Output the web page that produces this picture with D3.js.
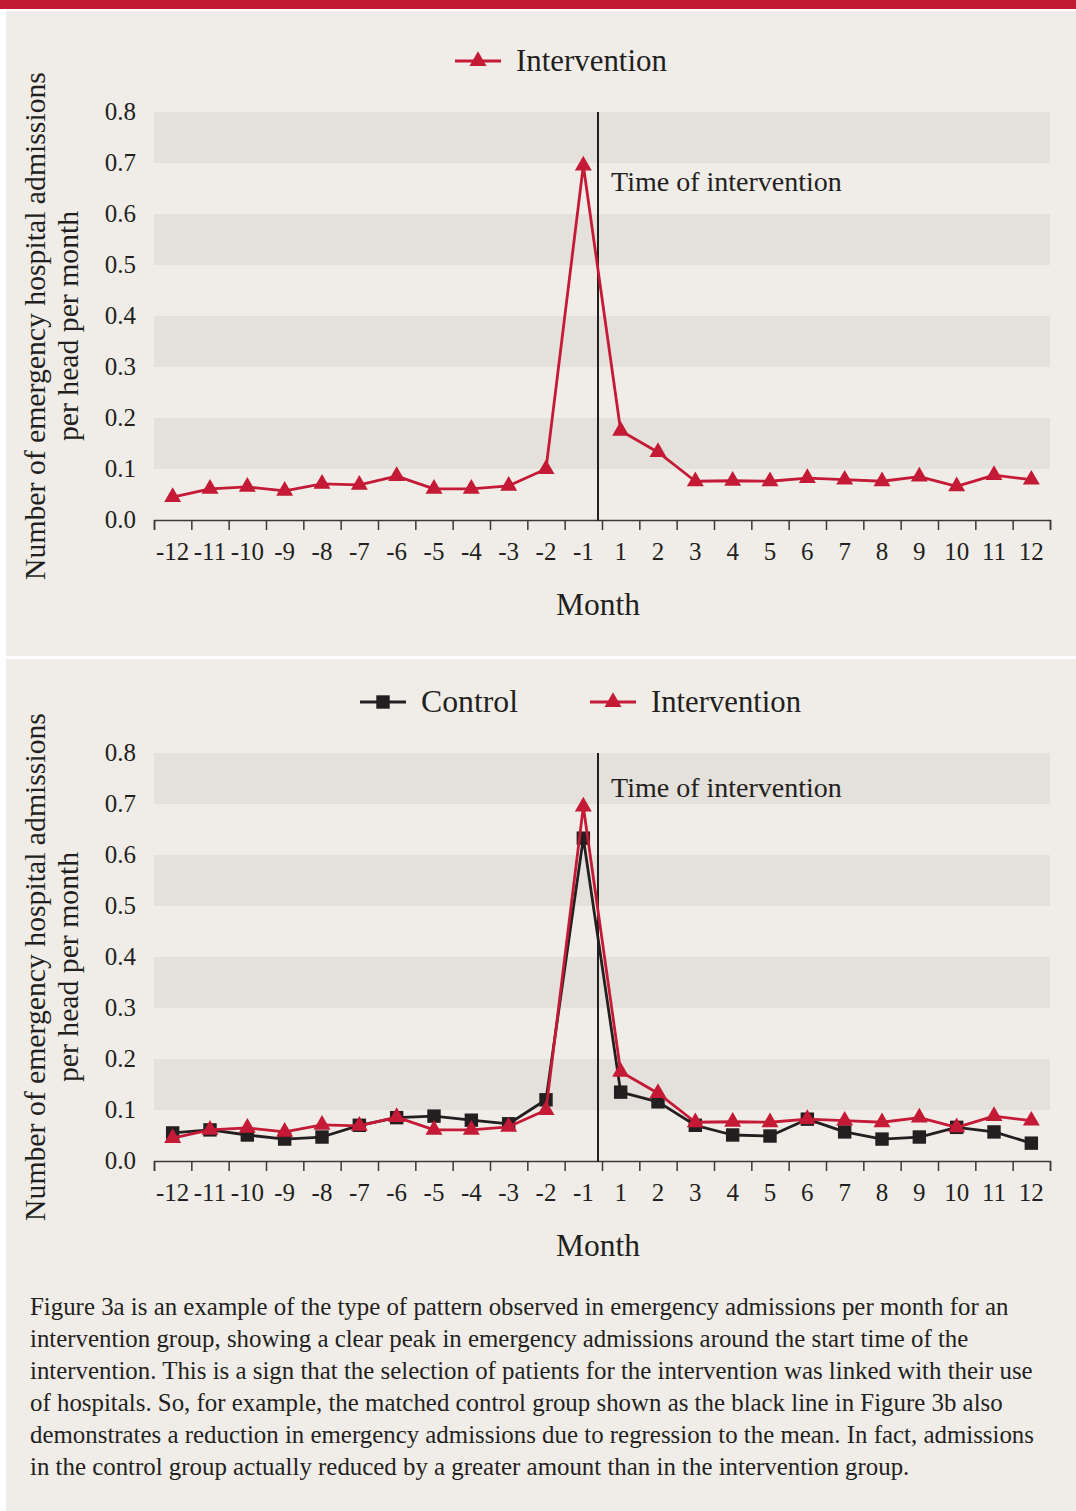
<!DOCTYPE html>
<html>
<head>
<meta charset="utf-8">
<script src="https://cdn.jsdelivr.net/npm/d3@7"></script>
<style>
  html, body { margin: 0; padding: 0; background: #ffffff; }
  svg { display: block; }
  text { font-family: "Liberation Serif", "DejaVu Serif", serif; fill: #231f20; }
</style>
</head>
<body>
<script>
// ---------------- DATA ----------------
const months = ["-12","-11","-10","-9","-8","-7","-6","-5","-4","-3","-2","-1",
                "1","2","3","4","5","6","7","8","9","10","11","12"];
const intervention = [0.045,0.061,0.065,0.057,0.071,0.069,0.086,0.061,0.061,0.067,0.100,0.695,
                      0.175,0.133,0.076,0.077,0.076,0.082,0.079,0.076,0.085,0.066,0.088,0.079];
const control = [0.055,0.061,0.051,0.043,0.047,0.070,0.085,0.088,0.080,0.073,0.120,0.633,
                 0.135,0.116,0.070,0.051,0.049,0.082,0.057,0.043,0.047,0.066,0.057,0.035];
const yTicks = [0.0,0.1,0.2,0.3,0.4,0.5,0.6,0.7,0.8];
const shadedBands = [[0.1,0.2],[0.3,0.4],[0.5,0.6],[0.7,0.8]];
const interventionMonth = "1";
const yTitle = ["Number of emergency hospital admissions", "per head per month"];
const xTitle = "Month";
const timeLabel = "Time of intervention";
const caption = [
  "Figure 3a is an example of the type of pattern observed in emergency admissions per month for an",
  "intervention group, showing a clear peak in emergency admissions around the start time of the",
  "intervention. This is a sign that the selection of patients for the intervention was linked with their use",
  "of hospitals. So, for example, the matched control group shown as the black line in Figure 3b also",
  "demonstrates a reduction in emergency admissions due to regression to the mean. In fact, admissions",
  "in the control group actually reduced by a greater amount than in the intervention group."
];
const captionWidths = [975, 940, 1007, 965, 1003, 888];

// ---------------- STYLE ----------------
const RED = "#c41a36", BLACK = "#231f20", BEIGE = "#f0ede8", BAND = "#e4e0db";
const FONT = '"Liberation Serif", "DejaVu Serif", serif';
const W = 1076, H = 1511;

const svg = d3.select("body").append("svg").attr("width", W).attr("height", H);
svg.append("rect").attr("width", W).attr("height", H).attr("fill", "#fff");
svg.append("rect").attr("x", 0).attr("y", 0).attr("width", W).attr("height", 9).attr("fill", RED);
svg.append("rect").attr("x", 6).attr("y", 11).attr("width", W - 6).attr("height", 645).attr("fill", BEIGE);
svg.append("rect").attr("x", 6).attr("y", 659).attr("width", W - 6).attr("height", H - 659).attr("fill", BEIGE);

function fit(sel, width) {
  const l = sel.node().getComputedTextLength();
  const fs = parseFloat(sel.style("font-size"));
  sel.style("font-size", (fs * width / l) + "px");
}

const x = d3.scaleBand().domain(months).range([154, 1050]).padding(0);
const xb = d3.scaleLinear().domain([0, months.length]).range([154, 1050]);
const bw = x.bandwidth();

function drawPanel(oy, seriesList, legendItems, timeLabelY) {
  const g = svg.append("g").attr("transform", `translate(0,${oy})`);
  const y = d3.scaleLinear().domain([0, 0.8]).range([520, 112]);

  // shaded bands
  g.selectAll("rect.band").data(shadedBands).join("rect")
    .attr("x", 154).attr("width", 1050 - 154)
    .attr("y", d => y(d[1])).attr("height", d => y(d[0]) - y(d[1]))
    .attr("fill", BAND);

  // y axis labels
  const ya = g.append("g").attr("transform", "translate(154,0)")
    .call(d3.axisLeft(y).tickValues(yTicks).tickFormat(d3.format(".1f")).tickSize(0).tickPadding(18));
  ya.attr("font-family", FONT).attr("font-size", 25);
  ya.select(".domain").remove();
  ya.selectAll("text").style("font-family", FONT).style("font-size", "25px").attr("fill", BLACK).attr("dy", "0.28em");

  // x axis: ticks at boundaries
  const xa = g.append("g").attr("transform", "translate(0,520)")
    .call(d3.axisBottom(xb).ticks(months.length).tickSize(10).tickFormat(""));
  xa.select(".domain").attr("stroke", "#3a3a3a").attr("stroke-width", 1.5);
  xa.selectAll(".tick line").attr("stroke", "#3a3a3a").attr("stroke-width", 1.5);
  const xl = g.append("g").attr("transform", "translate(0,520)")
    .call(d3.axisBottom(x).tickSize(0).tickPadding(22));
  xl.attr("font-family", FONT).attr("font-size", 25);
  xl.select(".domain").remove();
  xl.selectAll("text").style("font-family", FONT).style("font-size", "25px").attr("fill", BLACK);

  // vertical intervention line
  const vx = x(interventionMonth) - 4;
  g.append("line").attr("x1", vx).attr("x2", vx).attr("y1", y(0.8)).attr("y2", y(0) + 1)
    .attr("stroke", BLACK).attr("stroke-width", 2);
  const tl = g.append("text").attr("x", vx + 13).attr("y", timeLabelY).text(timeLabel).style("font-size", "26px");
  fit(tl, 231);

  // series
  const line = d3.line().x((d, i) => x(months[i]) + bw / 2).y(d => y(d));
  seriesList.forEach(s => {
    g.append("path").datum(s.values).attr("d", line).attr("fill", "none")
      .attr("stroke", s.color).attr("stroke-width", 2.8).attr("stroke-linejoin", "round");
    g.selectAll(null).data(s.values).join("path")
      .attr("transform", (d, i) => `translate(${x(months[i]) + bw / 2},${y(d)})`)
      .attr("d", d3.symbol(s.symbol, s.size)())
      .attr("fill", s.color);
  });

  // legend
  legendItems.forEach(L => {
    const lg = g.append("g").attr("transform", `translate(${L.x},61)`);
    lg.append("line").attr("x1", 0).attr("x2", 46).attr("stroke", L.s.color).attr("stroke-width", 2.8);
    lg.append("path").attr("transform", "translate(23,0)").attr("d", d3.symbol(L.s.symbol, L.s.size)()).attr("fill", L.s.color);
    const t = lg.append("text").attr("x", 61).attr("y", 10).text(L.s.name).style("font-size", "28px");
    fit(t, L.w);
  });

  // axis titles
  const xt = g.append("text").attr("x", 598).attr("y", 615).attr("text-anchor", "middle").text(xTitle).style("font-size", "27px");
  fit(xt, 84);
  const yt1 = g.append("text").attr("transform", "translate(45,326) rotate(-90)").attr("text-anchor", "middle")
    .text(yTitle[0]).style("font-size", "27px");
  fit(yt1, 508);
  const yt2 = g.append("text").attr("transform", "translate(78,326) rotate(-90)").attr("text-anchor", "middle")
    .text(yTitle[1]).style("font-size", "27px");
  yt2.style("font-size", yt1.style("font-size"));
}

const sInt = { name: "Intervention", values: intervention, color: RED, symbol: d3.symbolTriangle, size: 125 };
const sCtl = { name: "Control", values: control, color: BLACK, symbol: d3.symbolSquare, size: 180 };

drawPanel(0, [sInt], [{ s: sInt, x: 455, w: 151 }], 191);
drawPanel(641, [sCtl, sInt], [{ s: sCtl, x: 360, w: 97 }, { s: sInt, x: 590, w: 150 }], 156);

// caption
const capG = svg.append("g");
const capTexts = capG.selectAll("text").data(caption).join("text")
  .attr("x", 30).attr("y", (d, i) => 1315 + i * 32).text(d => d).style("font-size", "22px");
let ratios = [];
capTexts.each(function (d, i) { ratios.push(captionWidths[i] / this.getComputedTextLength()); });
const fsCap = 22 * d3.mean(ratios);
capTexts.style("font-size", fsCap + "px");
</script>
</body>
</html>
